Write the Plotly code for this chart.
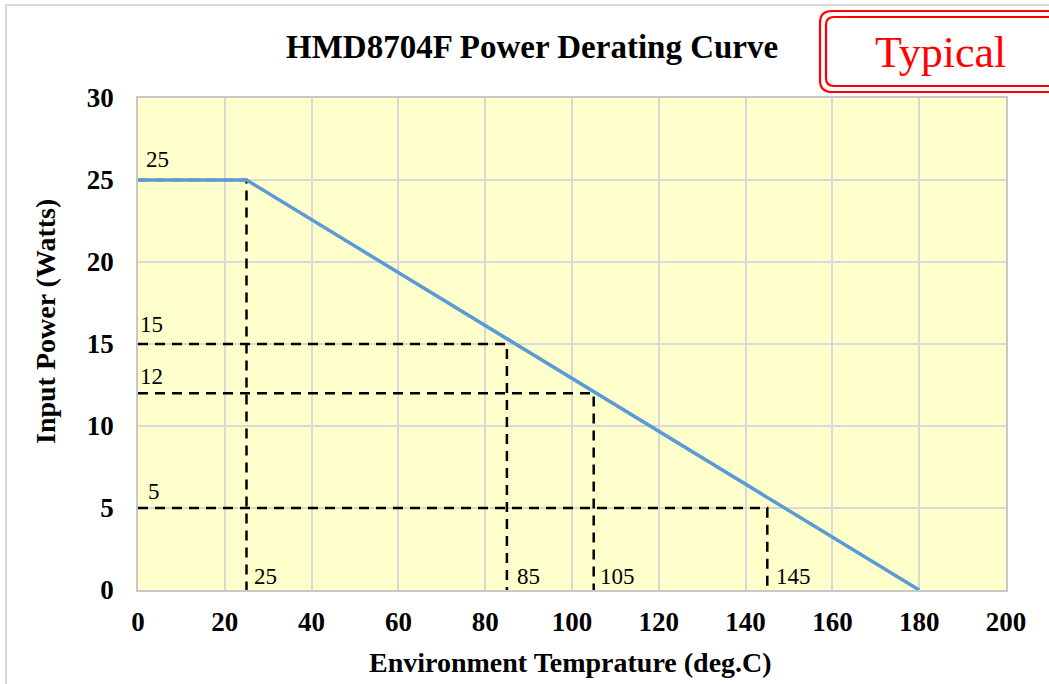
import plotly.graph_objects as go

# Data
curve_x = [0, 25, 180]
curve_y = [25, 25, 0]
marker_temps = [25, 85, 105, 145]
marker_powers = [25, 15, 12, 5]
x_ticks = [0, 20, 40, 60, 80, 100, 120, 140, 160, 180, 200]
y_ticks = [0, 5, 10, 15, 20, 25, 30]

W, H = 1049, 684
L, R, T, B = 138, 1006, 98, 590

def px(x):
    return (x - L) / (R - L)

def py(y):
    return (B - y) / (B - T)

FONT = "Liberation Serif"

fig = go.Figure()

# dashed guide lines
for t, p in zip(marker_temps, marker_powers):
    fig.add_trace(go.Scatter(x=[0, t, t], y=[p, p, 0], mode="lines",
                             line=dict(color="black", width=2.5, dash="10px,7px"),
                             hoverinfo="skip", showlegend=False, cliponaxis=False))

fig.add_trace(go.Scatter(x=curve_x, y=curve_y, mode="lines",
                         line=dict(color="#5B9BD5", width=3.5),
                         showlegend=False, cliponaxis=False))

annotations = []
left_shift = {25: 6, 15: 0, 12: 0, 5: 8}
left_yshift = {25: 6, 15: 5, 12: 2, 5: 2}
bottom_shift = {25: 5, 85: 8, 105: 4, 145: 7}
for t, p in zip(marker_temps, marker_powers):
    annotations.append(dict(x=0, y=p, xref="x", yref="y", text=str(p), showarrow=False,
                            xanchor="left", yanchor="bottom", xshift=left_shift[p], yshift=left_yshift[p],
                            font=dict(family=FONT, size=23, color="black")))
    annotations.append(dict(x=t, y=0, xref="x", yref="y", text=str(t), showarrow=False,
                            xanchor="left", yanchor="bottom", xshift=bottom_shift[t], yshift=-1,
                            font=dict(family=FONT, size=23, color="black")))

annotations.append(dict(x=px(532), y=py(47), xref="paper", yref="paper",
                        text="<b>HMD8704F Power Derating Curve</b>", showarrow=False,
                        xanchor="center", yanchor="middle",
                        font=dict(family=FONT, size=33, color="black")))
annotations.append(dict(x=px(570), y=py(662), xref="paper", yref="paper",
                        text="<b>Environment Temprature (deg.C)</b>", showarrow=False,
                        xanchor="center", yanchor="middle",
                        font=dict(family=FONT, size=28, color="black")))
annotations.append(dict(x=px(45), y=py(322), xref="paper", yref="paper",
                        text="<b>Input Power (Watts)</b>", showarrow=False, textangle=-90,
                        xanchor="center", yanchor="middle",
                        font=dict(family=FONT, size=28, color="black")))
annotations.append(dict(x=px(940), y=py(53), xref="paper", yref="paper",
                        text="Typical", showarrow=False,
                        xanchor="center", yanchor="middle",
                        font=dict(family=FONT, size=44, color="#FF0000")))

def rrect(x0, y0, x1, y1, r):
    pts = [
        f"M {px(x0 + r)},{py(y0)}",
        f"L {px(x1 - r)},{py(y0)}",
        f"Q {px(x1)},{py(y0)} {px(x1)},{py(y0 + r)}",
        f"L {px(x1)},{py(y1 - r)}",
        f"Q {px(x1)},{py(y1)} {px(x1 - r)},{py(y1)}",
        f"L {px(x0 + r)},{py(y1)}",
        f"Q {px(x0)},{py(y1)} {px(x0)},{py(y1 - r)}",
        f"L {px(x0)},{py(y0 + r)}",
        f"Q {px(x0)},{py(y0)} {px(x0 + r)},{py(y0)}",
        "Z",
    ]
    return " ".join(pts)

shapes = [
    dict(type="rect", xref="paper", yref="paper", x0=px(6), y0=py(5), x1=px(1080), y1=py(720),
         line=dict(color="#D9D9D9", width=2), layer="below"),
    dict(type="path", xref="paper", yref="paper", path=rrect(820, 11, 1075, 92, 12),
         line=dict(color="#FF0000", width=2.2)),
    dict(type="path", xref="paper", yref="paper", path=rrect(826, 17, 1069, 86, 8),
         line=dict(color="#FF0000", width=2.2)),
]

fig.update_layout(
    width=W, height=H,
    margin=dict(l=L, r=W - R, t=T, b=H - B),
    paper_bgcolor="white",
    plot_bgcolor="#FFFFCC",
    showlegend=False,
    annotations=annotations,
    shapes=shapes,
    font=dict(family=FONT, color="black"),
)
fig.update_xaxes(range=[0, 200], tickvals=x_ticks, ticktext=[f"<b>{v}</b>" for v in x_ticks],
                 tickfont=dict(family=FONT, size=27, color="black"),
                 showgrid=True, gridcolor="#D9D9D9", gridwidth=1.5,
                 showline=True, linecolor="#C8C8C8", linewidth=1.5, mirror=True,
                 zeroline=False, ticks="", ticklabelstandoff=7)
fig.update_yaxes(range=[0, 30], tickvals=y_ticks, ticktext=[f"<b>{v}</b>" for v in y_ticks],
                 tickfont=dict(family=FONT, size=27, color="black"),
                 showgrid=True, gridcolor="#D9D9D9", gridwidth=1.5,
                 showline=True, linecolor="#C8C8C8", linewidth=1.5, mirror=True,
                 zeroline=False, ticks="", ticklabelstandoff=17)

fig.write_html("out.html", config={"displayModeBar": False},
               post_script="document.body.style.margin='0';document.body.style.overflow='hidden';")
